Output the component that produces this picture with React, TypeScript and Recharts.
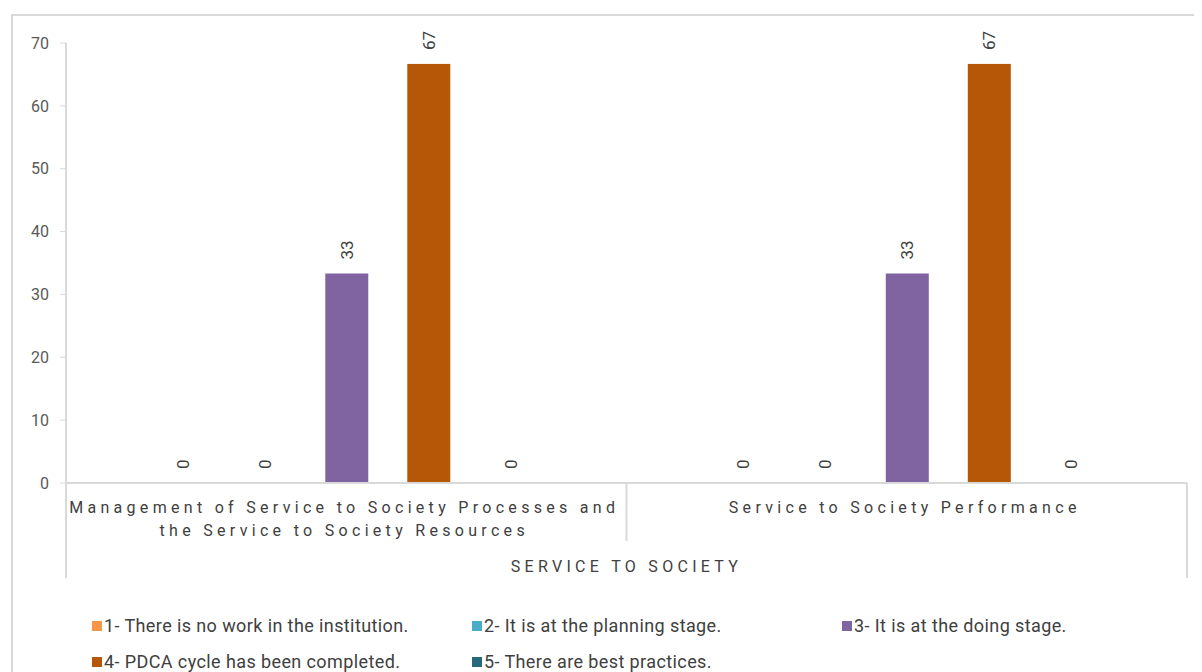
import React from 'react';
import { BarChart, Bar, XAxis, YAxis } from 'recharts';

// categories and their wrapped label lines
const categories = [
  'Management of Service to Society Processes and the Service to Society Resources',
  'Service to Society Performance',
];
const categoryLines = [
  ['Management of Service to Society Processes and', 'the Service to Society Resources'],
  ['Service to Society Performance'],
];
const groupTitle = 'SERVICE TO SOCIETY';

// series values (percent)
const noWork = [0, 0];
const planning = [0, 0];
const doing = [33.33, 33.33];
const pdca = [66.67, 66.67];
const bestPractices = [0, 0];

const seriesNames = [
  '1- There is no work in the institution.',
  '2- It is at the planning stage.',
  '3- It is at the doing stage.',
  '4- PDCA cycle has been completed.',
  '5- There are best practices.',
];
const seriesColors = ['#f79646', '#4bacc6', '#8064a2', '#b65708', '#276a7c'];
const seriesKeys = ['s1', 's2', 's3', 's4', 's5'];
const yTicks = [0, 10, 20, 30, 40, 50, 60, 70];

const data = categories.map((name, i) => ({
  name,
  s1: noWork[i],
  s2: planning[i],
  s3: doing[i],
  s4: pdca[i],
  s5: bestPractices[i],
}));

const GRID = '#d9d9d9';
const TEXT = '#404040';

// bar rectangle plus its rotated value label (also drawn for zero bars)
const BarWithLabel = (props: any) => {
  const { x, y, width, height, fill, payload, dataKey } = props;
  const value = payload ? payload[dataKey] : 0;
  const cx = Number(x) + Number(width) / 2;
  const ty = Number(y) - 14;
  return (
    <g>
      {height > 0 && <rect x={x} y={y} width={width} height={height} fill={fill} />}
      <text
        x={cx}
        y={ty}
        transform={`rotate(-90 ${cx} ${ty})`}
        textAnchor="start"
        dominantBaseline="central"
        fontSize={17}
        fill={TEXT}
      >
        {Math.round(Number(value))}
      </text>
    </g>
  );
};

// category tick with the multi-level axis dividers
const CategoryTick = (props: any) => {
  const { x, y, payload, index } = props;
  const half = payload && payload.offset ? payload.offset : 280;
  const lines = categoryLines[index] || [payload.value];
  const last = index === categories.length - 1;
  return (
    <g>
      {index === 0 && (
        <line x1={x - half} x2={x - half} y1={y} y2={y + 95} stroke={GRID} strokeWidth={2} />
      )}
      <line
        x1={x + half}
        x2={x + half}
        y1={y}
        y2={last ? y + 95 : y + 58}
        stroke={GRID}
        strokeWidth={2}
      />
      <text textAnchor="middle" fontSize={16} fill={TEXT} style={{ letterSpacing: '4.3px' }}>
        {lines.map((line: string, i: number) => (
          <tspan key={i} x={x - 2} y={y + 30 + i * 23}>
            {line}
          </tspan>
        ))}
      </text>
    </g>
  );
};

export default function App() {
  return (
    <div
      style={{
        position: 'relative',
        width: 1202,
        height: 672,
        margin: '-8px 0 0 -8px',
        overflow: 'hidden',
        fontFamily: 'Roboto, sans-serif',
        background: '#fff',
      }}
    >
      <div
        style={{
          position: 'absolute',
          left: 11,
          top: 14,
          width: 1250,
          height: 700,
          border: `2px solid ${GRID}`,
        }}
      />
      <div style={{ position: 'absolute', left: 0, top: 0 }}>
        <BarChart
          width={1202}
          height={672}
          data={data}
          margin={{ top: 43, right: 15, left: 0, bottom: 0 }}
          barCategoryGap="17%"
          barGap={39}
        >
          <YAxis
            width={66}
            domain={[0, 70]}
            ticks={yTicks}
            interval={0}
            axisLine={{ stroke: GRID, strokeWidth: 2 }}
            tickLine={{ stroke: GRID }}
            tickSize={6}
            tickMargin={11}
            tick={{ fill: '#595959', fontSize: 16 }}
          />
          <XAxis
            dataKey="name"
            height={189}
            axisLine={{ stroke: GRID, strokeWidth: 2 }}
            tickLine={false}
            tickSize={0}
            tickMargin={0}
            interval={0}
            tick={<CategoryTick />}
            label={{
              value: groupTitle,
              position: 'insideBottom',
              offset: 100,
              fontSize: 16,
              fill: TEXT,
              style: { letterSpacing: '4.3px' },
            }}
          />
          {seriesKeys.map((key, i) => (
            <Bar
              key={key}
              dataKey={key}
              name={seriesNames[i]}
              fill={seriesColors[i]}
              isAnimationActive={false}
              shape={(p: any) => <BarWithLabel {...p} dataKey={key} />}
            />
          ))}
        </BarChart>
      </div>
      <div
        style={{
          position: 'absolute',
          left: 92,
          top: 614,
          display: 'grid',
          gridTemplateColumns: '380px 370px 370px',
          rowGap: 13,
          fontSize: 18,
          letterSpacing: '0.4px',
          color: TEXT,
        }}
      >
        {seriesNames.map((name, i) => (
          <div key={name} style={{ display: 'flex', alignItems: 'center', height: 23 }}>
            <span
              style={{
                display: 'inline-block',
                width: 10,
                height: 10,
                background: seriesColors[i],
                marginRight: 2,
              }}
            />
            {name}
          </div>
        ))}
      </div>
    </div>
  );
}
